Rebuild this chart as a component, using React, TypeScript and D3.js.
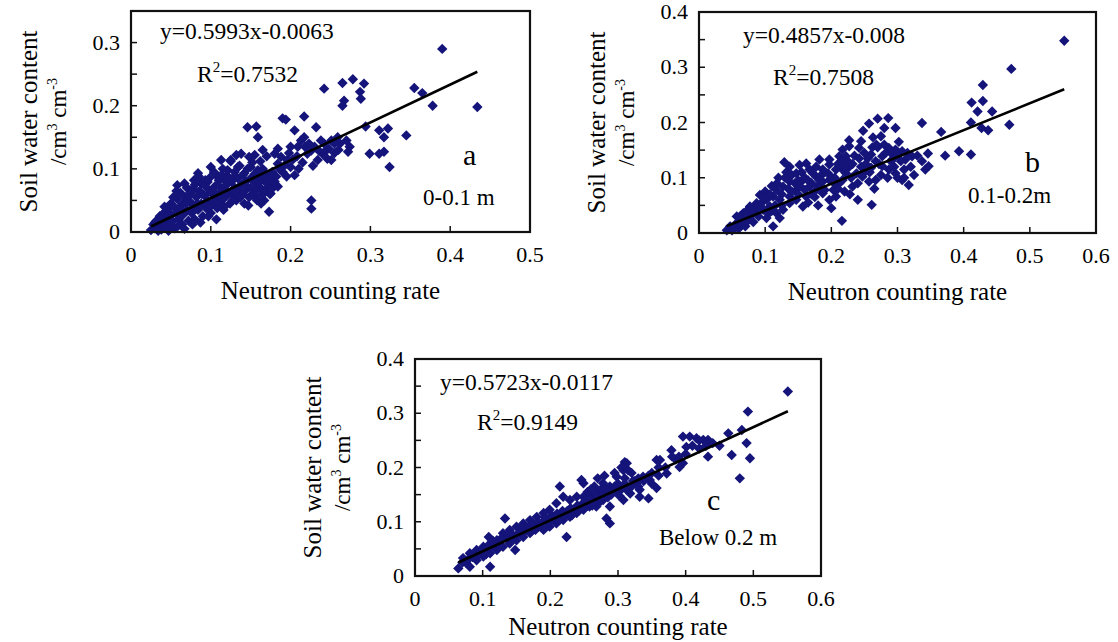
import React from "react";
import * as d3 from "d3";

// ---------- DATA ----------
const pointsA: [number, number][] = [
  [0.39,0.29],[0.434,0.198],[0.378,0.2],[0.355,0.228],[0.365,0.22],[0.265,0.236],[0.278,0.242],[0.292,0.235],
  [0.242,0.227],[0.287,0.222],[0.288,0.211],[0.267,0.208],[0.265,0.2],[0.217,0.183],[0.19,0.18],[0.194,0.178],
  [0.146,0.166],[0.157,0.167],[0.159,0.15],[0.205,0.161],[0.232,0.166],[0.294,0.167],[0.311,0.161],[0.322,0.164],
  [0.317,0.15],[0.345,0.153],[0.299,0.124],[0.311,0.124],[0.317,0.127],[0.324,0.103],[0.274,0.135],[0.272,0.127],
  [0.226,0.05],[0.226,0.037],[0.173,0.032],
  [0.217,0.15],[0.213,0.145],[0.209,0.135],[0.226,0.129],[0.242,0.14],[0.251,0.145],[0.259,0.15],[0.24,0.124],
  [0.246,0.116],[0.234,0.114],[0.251,0.114],[0.221,0.124],[0.2,0.135],[0.184,0.132],[0.18,0.124],[0.188,0.119],
  [0.196,0.114],[0.2,0.103],[0.184,0.108],
  [0.155,0.122],[0.148,0.119],[0.132,0.122],[0.125,0.114],
  [0.15,0.103],[0.159,0.098],[0.167,0.093],[0.175,0.09],[0.171,0.082],[0.18,0.077],[0.184,0.072],[0.175,0.061],
  [0.167,0.05],[0.159,0.072],
  [0.121,0.098],[0.134,0.103],[0.142,0.093],[0.129,0.087],[0.117,0.082],[0.109,0.087],[0.104,0.093],[0.096,0.079],
  [0.088,0.077],[0.084,0.087],[0.079,0.082],[0.075,0.066],[0.067,0.077],[0.058,0.074],
  [0.113,0.114],[0.138,0.124],[0.1,0.103],[0.084,0.093],
  [0.165,0.13],[0.17,0.12],[0.162,0.112],[0.19,0.095],[0.195,0.088],[0.205,0.09],[0.21,0.1],[0.215,0.11],
  [0.228,0.105],[0.236,0.128],[0.248,0.132],[0.255,0.125],[0.262,0.14],[0.27,0.145],
  [0.025,0.003],[0.028,0.012],[0.03,0.006],[0.032,0.018],[0.035,0.01],[0.036,0.025],[0.038,0.004],[0.04,0.015],
  [0.041,0.03],[0.043,0.008],[0.044,0.022],[0.046,0.035],[0.048,0.012],[0.05,0.028],[0.05,0.045],[0.052,0.018],
  [0.054,0.04],[0.055,0.006],[0.056,0.03],[0.058,0.052],[0.06,0.02],[0.06,0.038],[0.062,0.062],[0.064,0.012],
  [0.065,0.045],[0.066,0.028],[0.068,0.055],[0.07,0.035],[0.07,0.07],[0.072,0.018],[0.074,0.048],[0.075,0.062],
  [0.076,0.03],[0.078,0.042],[0.08,0.075],[0.08,0.02],[0.082,0.055],[0.084,0.035],[0.085,0.088],[0.086,0.065],
  [0.088,0.045],[0.09,0.025],[0.09,0.078],[0.092,0.058],[0.094,0.038],[0.095,0.07],[0.096,0.05],[0.098,0.085],
  [0.1,0.03],[0.1,0.062],[0.102,0.045],[0.104,0.095],[0.105,0.072],[0.106,0.055],[0.108,0.038],[0.11,0.082],
  [0.11,0.06],[0.112,0.048],[0.114,0.068],[0.115,0.1],[0.116,0.035],[0.118,0.055],[0.12,0.075],[0.12,0.09],
  [0.122,0.062],[0.124,0.045],[0.125,0.112],[0.126,0.08],[0.128,0.058],[0.13,0.07],[0.13,0.095],[0.132,0.05],
  [0.134,0.085],[0.135,0.065],[0.136,0.105],[0.138,0.075],[0.14,0.06],[0.14,0.09],[0.142,0.045],[0.144,0.08],
  [0.145,0.068],[0.146,0.1],[0.148,0.055],[0.15,0.085],[0.15,0.07],[0.152,0.11],[0.154,0.062],[0.155,0.092],
  [0.156,0.078],[0.158,0.05],[0.16,0.088],[0.162,0.07],[0.164,0.058],[0.165,0.1],[0.166,0.082],[0.168,0.066],
  [0.17,0.092],[0.172,0.075],[0.174,0.06],[0.175,0.085],[0.178,0.07],[0.18,0.08],
  [0.03,0.015],[0.034,0.002],[0.038,0.02],[0.042,0.04],[0.047,0.002],[0.05,0.015],[0.053,0.055],[0.057,0.065],
  [0.059,0.01],[0.063,0.035],[0.067,0.005],[0.069,0.045],[0.073,0.058],[0.077,0.012],[0.079,0.068],[0.083,0.045],
  [0.087,0.015],[0.089,0.06],[0.093,0.082],[0.097,0.025],[0.099,0.04],[0.103,0.065],[0.107,0.02],[0.109,0.075],
  [0.113,0.09],[0.117,0.04],[0.119,0.065],[0.123,0.085],[0.127,0.05],[0.131,0.065],[0.137,0.055],[0.143,0.075],
  [0.147,0.042],[0.153,0.058],[0.157,0.065],[0.161,0.08],[0.163,0.045],[0.169,0.085],[0.177,0.095],[0.182,0.088],
  [0.186,0.1],[0.192,0.105],[0.198,0.125],[0.203,0.115],[0.208,0.12],[0.218,0.135],[0.223,0.14],[0.23,0.135],
  [0.238,0.145],[0.245,0.13],[0.255,0.14],[0.26,0.13],
];

const pointsB: [number, number][] = [
  [0.552,0.348],[0.472,0.297],[0.429,0.268],[0.412,0.236],[0.429,0.239],[0.421,0.22],[0.443,0.22],[0.411,0.2],
  [0.427,0.19],[0.437,0.186],[0.469,0.196],[0.411,0.142],[0.393,0.148],[0.372,0.14],[0.366,0.183],[0.337,0.199],
  [0.346,0.144],
  [0.27,0.207],[0.286,0.208],[0.257,0.198],[0.28,0.19],[0.297,0.19],[0.263,0.173],[0.245,0.166],[0.227,0.168],
  [0.242,0.154],[0.25,0.145],[0.26,0.142],[0.267,0.13],[0.277,0.139],[0.287,0.154],[0.297,0.151],[0.307,0.148],
  [0.292,0.133],[0.312,0.133],[0.322,0.139],[0.337,0.13],[0.342,0.115],[0.347,0.121],
  [0.317,0.087],[0.307,0.096],[0.297,0.108],[0.287,0.115],[0.277,0.121],[0.267,0.096],[0.257,0.093],[0.247,0.102],
  [0.232,0.084],[0.222,0.108],[0.215,0.117],[0.261,0.051],[0.216,0.022],
  [0.207,0.066],[0.197,0.06],[0.187,0.072],[0.177,0.078],[0.167,0.084],[0.157,0.096],[0.147,0.108],[0.137,0.12],
  [0.129,0.128],
  [0.177,0.12],[0.187,0.115],[0.197,0.124],[0.207,0.115],[0.167,0.115],[0.162,0.126],[0.152,0.123],[0.197,0.096],
  [0.207,0.087],[0.217,0.096],[0.187,0.093],[0.177,0.102],
  [0.137,0.093],[0.127,0.084],[0.117,0.078],[0.112,0.066],[0.102,0.06],[0.092,0.069],[0.122,0.06],[0.137,0.054],
  [0.147,0.06],[0.157,0.048],[0.127,0.042],[0.117,0.036],[0.137,0.066],[0.147,0.078],[0.162,0.066],[0.107,0.048],
  [0.097,0.042],[0.087,0.036],[0.077,0.03],[0.067,0.024],[0.057,0.018],[0.047,0.012],[0.087,0.054],[0.077,0.048],
  [0.067,0.036],[0.057,0.03],[0.102,0.027],[0.122,0.027],[0.112,0.012],[0.042,0.005],
  [0.182,0.133],[0.197,0.133],[0.212,0.139],[0.222,0.139],[0.227,0.12],[0.227,0.157],[0.217,0.151],
  [0.05,0.005],[0.055,0.01],[0.06,0.008],[0.065,0.015],[0.07,0.012],[0.072,0.04],[0.082,0.02],[0.085,0.045],
  [0.09,0.03],[0.095,0.055],[0.1,0.075],[0.105,0.035],[0.11,0.085],[0.115,0.05],[0.12,0.1],[0.125,0.07],
  [0.13,0.1],[0.135,0.08],[0.14,0.105],[0.145,0.09],[0.15,0.07],[0.155,0.11],[0.16,0.1],[0.165,0.055],
  [0.17,0.09],[0.172,0.108],[0.175,0.065],[0.18,0.085],[0.185,0.105],[0.19,0.078],[0.195,0.108],[0.2,0.1],
  [0.203,0.078],[0.21,0.125],[0.212,0.09],[0.22,0.075],[0.225,0.13],[0.23,0.1],[0.235,0.14],[0.24,0.09],
  [0.245,0.12],[0.25,0.11],[0.255,0.135],[0.26,0.118],[0.265,0.08],[0.27,0.155],[0.275,0.105],[0.28,0.16],
  [0.285,0.1],[0.29,0.145],[0.295,0.12],[0.3,0.1],[0.305,0.13],[0.31,0.115],[0.315,0.145],[0.32,0.12],
  [0.325,0.105],[0.33,0.14],[0.302,0.165],[0.248,0.185],[0.275,0.175],[0.24,0.06],[0.228,0.07],[0.18,0.05],
  [0.2,0.045],
  [0.062,0.03],[0.072,0.02],[0.08,0.04],[0.092,0.05],[0.097,0.065],[0.107,0.07],[0.11,0.04],[0.118,0.09],
  [0.125,0.05],[0.132,0.11],[0.14,0.075],[0.15,0.095],[0.152,0.085],[0.16,0.078],[0.165,0.095],[0.17,0.07],
  [0.182,0.095],[0.19,0.11],[0.205,0.1],[0.21,0.08],[0.215,0.13],[0.22,0.12],[0.232,0.125],[0.238,0.108],
  [0.242,0.135],[0.252,0.125],[0.258,0.11],[0.262,0.155],[0.272,0.125],[0.282,0.145],[0.29,0.13],[0.3,0.14],
  [0.31,0.1],[0.268,0.16],
];

const pointsC: [number, number][] = [
  [0.551,0.34],[0.492,0.303],[0.483,0.269],[0.49,0.245],[0.495,0.217],[0.48,0.18],[0.468,0.223],[0.463,0.263],
  [0.433,0.251],[0.433,0.22],[0.426,0.251],[0.416,0.254],[0.406,0.257],[0.396,0.257],[0.401,0.238],[0.396,0.208],
  [0.391,0.201],[0.379,0.232],[0.372,0.189],[0.357,0.214],[0.362,0.214],[0.357,0.162],[0.347,0.177],[0.345,0.143],
  [0.332,0.146],[0.337,0.183],[0.327,0.171],[0.313,0.208],[0.308,0.195],[0.298,0.183],[0.288,0.165],[0.278,0.171],
  [0.268,0.159],[0.258,0.152],[0.249,0.171],[0.249,0.146],[0.246,0.177],[0.239,0.146],[0.229,0.14],[0.219,0.146],
  [0.214,0.165],[0.209,0.134],[0.199,0.122],[0.19,0.116],[0.18,0.109],[0.17,0.103],[0.16,0.097],[0.15,0.091],
  [0.14,0.085],[0.13,0.079],[0.121,0.066],[0.111,0.06],[0.101,0.054],[0.091,0.048],[0.081,0.042],[0.071,0.033],
  [0.064,0.014],[0.081,0.017],[0.111,0.017],[0.109,0.072],[0.133,0.106],[0.148,0.048],[0.224,0.072],[0.283,0.106],
  [0.288,0.097],[0.288,0.128],[0.308,0.14],[0.318,0.152],[0.332,0.159],[0.298,0.159],[0.278,0.14],[0.268,0.128],
  [0.258,0.128],[0.249,0.122],[0.239,0.116],[0.229,0.109],[0.219,0.103],[0.209,0.097],[0.199,0.091],[0.19,0.085],
  [0.18,0.097],[0.17,0.079],[0.16,0.072],[0.15,0.066],[0.14,0.06],[0.13,0.054],[0.121,0.048],[0.111,0.042],
  [0.101,0.036],[0.091,0.029],
  [0.35,0.19],[0.34,0.18],[0.325,0.175],[0.32,0.165],[0.31,0.17],[0.305,0.16],[0.3,0.155],[0.295,0.165],
  [0.29,0.15],[0.285,0.145],[0.28,0.155],[0.275,0.15],[0.27,0.14],[0.265,0.145],[0.26,0.14],[0.255,0.13],
  [0.25,0.135],[0.245,0.13],[0.24,0.13],[0.235,0.12],[0.23,0.125],[0.225,0.12],[0.22,0.115],[0.215,0.11],
  [0.21,0.115],[0.205,0.105],[0.2,0.105],[0.195,0.1],[0.19,0.1],[0.185,0.095],[0.175,0.09],[0.165,0.085],
  [0.155,0.08],[0.145,0.075],[0.135,0.07],[0.125,0.062],[0.115,0.055],[0.105,0.05],[0.095,0.04],[0.085,0.035],
  [0.075,0.025],[0.37,0.2],[0.385,0.215],[0.4,0.225],[0.41,0.24],[0.42,0.235],[0.44,0.245],[0.45,0.24],
  [0.36,0.2],[0.31,0.18],[0.32,0.19],[0.3,0.17],[0.33,0.165],[0.35,0.17],[0.36,0.185],[0.255,0.155],
  [0.265,0.165],[0.275,0.16],[0.31,0.21],[0.305,0.2],[0.315,0.195],[0.295,0.19],[0.28,0.185],[0.27,0.18],
  [0.26,0.16],
  [0.07,0.025],[0.078,0.03],[0.088,0.04],[0.098,0.045],[0.105,0.04],[0.115,0.065],[0.125,0.055],[0.128,0.07],
  [0.138,0.078],[0.143,0.068],[0.152,0.078],[0.158,0.09],[0.162,0.082],[0.168,0.09],[0.172,0.095],[0.178,0.085],
  [0.182,0.1],[0.188,0.09],[0.192,0.108],[0.198,0.098],[0.202,0.112],[0.208,0.108],[0.212,0.102],[0.218,0.12],
  [0.222,0.11],[0.228,0.118],[0.232,0.112],[0.238,0.125],[0.242,0.12],[0.248,0.128],[0.252,0.14],[0.258,0.135],
  [0.262,0.13],[0.268,0.15],[0.272,0.135],[0.278,0.148],[0.282,0.16],[0.292,0.158],[0.302,0.148],[0.312,0.16],
  [0.322,0.175],[0.33,0.18],[0.338,0.175],[0.345,0.185],[0.38,0.22],[0.39,0.22],[0.42,0.25],[0.43,0.24],
];

const fitA = { slope: 0.5993, intercept: -0.0063, eq: "y=0.5993x-0.0063", r2: "0.7532", letter: "a", depth: "0-0.1 m" };
const fitB = { slope: 0.4857, intercept: -0.008, eq: "y=0.4857x-0.008", r2: "0.7508", letter: "b", depth: "0.1-0.2m" };
const fitC = { slope: 0.5723, intercept: -0.0117, eq: "y=0.5723x-0.0117", r2: "0.9149", letter: "c", depth: "Below 0.2 m" };

const xTicksA = [0, 0.1, 0.2, 0.3, 0.4, 0.5];
const xTicksBC = [0, 0.1, 0.2, 0.3, 0.4, 0.5, 0.6];
const yLabelsA = [0, 0.1, 0.2, 0.3];
const yLabelsBC = [0, 0.1, 0.2, 0.3, 0.4];
const yMinorA = [0.05, 0.1, 0.15, 0.2, 0.25, 0.3];
const yMinorBC = [0.05, 0.1, 0.15, 0.2, 0.25, 0.3, 0.35];

const X_TITLE = "Neutron counting rate";
const Y_TITLE = "Soil water content";

// ---------- LAYOUT / STYLE ----------
const FONT = "'Liberation Serif', 'Times New Roman', Times, serif";
const DOT = "#14147a";

type Layout = {
  left: number; right: number; top: number; bottom: number;
  xMax: number; yMax: number; xTitleY: number;
  eq: [number, number]; r2: [number, number]; letter: [number, number]; depth: [number, number];
};

const layA: Layout = { left: 131, right: 530, top: 11, bottom: 232, xMax: 0.5, yMax: 0.35, xTitleY: 299,
  eq: [160, 39], r2: [197, 82], letter: [463, 165], depth: [423, 205] };
const layB: Layout = { left: 699, right: 1096, top: 12, bottom: 233, xMax: 0.6, yMax: 0.4, xTitleY: 300,
  eq: [743, 43], r2: [773, 85], letter: [1025, 172], depth: [968, 203] };
const layC: Layout = { left: 415, right: 821, top: 359, bottom: 576, xMax: 0.6, yMax: 0.4, xTitleY: 635,
  eq: [440, 390], r2: [477, 430], letter: [707, 510], depth: [659, 545] };

const diamond = d3.symbol(d3.symbolSquare, 54)() as string;

function Panel({ pts, fit, lay, xTicks, yLabels, yMinor }: {
  pts: [number, number][]; fit: typeof fitA; lay: Layout; xTicks: number[]; yLabels: number[]; yMinor: number[];
}) {
  const x = d3.scaleLinear().domain([0, lay.xMax]).range([lay.left, lay.right]);
  const y = d3.scaleLinear().domain([0, lay.yMax]).range([lay.bottom, lay.top]);
  const [xmin, xmax] = d3.extent(pts, (d) => d[0]) as [number, number];
  const lineGen = d3.line<number>().x((v) => x(v)).y((v) => y(fit.slope * v + fit.intercept));
  const cx = (lay.left + lay.right) / 2;
  const cy = (lay.top + lay.bottom) / 2;
  return (
    <g fontFamily={FONT} fill="#000">
      {pts.map((d, i) => (
        <path key={i} d={diamond} transform={`translate(${x(d[0])},${y(d[1])}) rotate(45)`} fill={DOT} />
      ))}
      <path d={lineGen([xmin, xmax]) || ""} stroke="#000" strokeWidth={2.6} fill="none" />
      <rect x={lay.left} y={lay.top} width={lay.right - lay.left} height={lay.bottom - lay.top}
        fill="none" stroke="#111" strokeWidth={2.2} />
      {xTicks.slice(1, -1).map((t) => (
        <line key={"xt" + t} x1={x(t)} x2={x(t)} y1={lay.bottom} y2={lay.bottom - 6} stroke="#111" strokeWidth={1.5} />
      ))}
      {yMinor.map((t) => (
        <line key={"yt" + t} x1={lay.left} x2={lay.left + 6} y1={y(t)} y2={y(t)} stroke="#111" strokeWidth={1.5} />
      ))}
      {xTicks.map((t) => (
        <text key={"xl" + t} x={x(t)} y={lay.bottom + 30} fontSize={22} textAnchor="middle">{String(t)}</text>
      ))}
      {yLabels.map((t) => (
        <text key={"yl" + t} x={lay.left - 11} y={y(t) + 7} fontSize={22} textAnchor="end">{String(t)}</text>
      ))}
      <text x={cx} y={lay.xTitleY} fontSize={25} textAnchor="middle">{X_TITLE}</text>
      <text transform={`translate(${lay.left - 94},${cy}) rotate(-90)`} fontSize={25} textAnchor="middle">{Y_TITLE}</text>
      <text transform={`translate(${lay.left - 65},${cy}) rotate(-90)`} fontSize={23} textAnchor="middle">
        /cm<tspan dy={-9} fontSize={14}>3</tspan><tspan dy={9}> cm</tspan><tspan dy={-9} fontSize={14}>-3</tspan>
      </text>
      <text x={lay.eq[0]} y={lay.eq[1]} fontSize={23.5}>{fit.eq}</text>
      <text x={lay.r2[0]} y={lay.r2[1]} fontSize={23.5}>
        R<tspan dy={-10} fontSize={15}>2</tspan><tspan dy={10}>={fit.r2}</tspan>
      </text>
      <text x={lay.letter[0]} y={lay.letter[1]} fontSize={30}>{fit.letter}</text>
      <text x={lay.depth[0]} y={lay.depth[1]} fontSize={23}>{fit.depth}</text>
    </g>
  );
}

export default function App() {
  return (
    <svg width={1118} height={642} style={{ position: "absolute", left: 0, top: 0, background: "#fff" }}>
      <rect width={1118} height={642} fill="#fff" />
      <Panel pts={pointsA} fit={fitA} lay={layA} xTicks={xTicksA} yLabels={yLabelsA} yMinor={yMinorA} />
      <Panel pts={pointsB} fit={fitB} lay={layB} xTicks={xTicksBC} yLabels={yLabelsBC} yMinor={yMinorBC} />
      <Panel pts={pointsC} fit={fitC} lay={layC} xTicks={xTicksBC} yLabels={yLabelsBC} yMinor={yMinorBC} />
    </svg>
  );
}
